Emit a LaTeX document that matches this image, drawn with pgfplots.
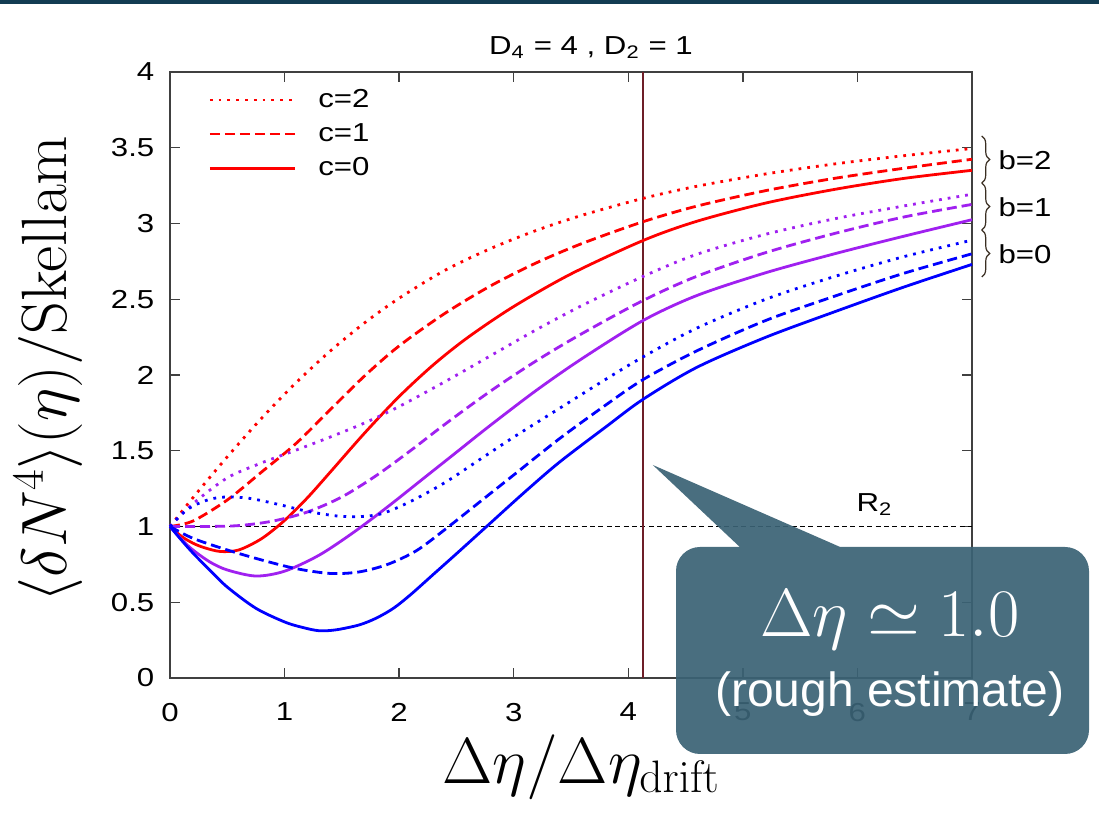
\RequirePackage{fix-cm}
\documentclass[border=0pt]{standalone}
\usepackage[no-math]{fontspec}
\setmainfont{Liberation Sans}
\usepackage{pgfplots}
\pgfplotsset{compat=1.18}
\usetikzlibrary{decorations.pathreplacing}
\definecolor{gpred}{HTML}{FF0000}
\definecolor{gppurple}{HTML}{A020F0}
\definecolor{gpblue}{HTML}{0000FF}
\definecolor{vline}{HTML}{6E1E28}
\definecolor{topbar}{HTML}{123C52}
\definecolor{callout}{HTML}{3A6275}
\definecolor{axisgray}{HTML}{404040}
\definecolor{bracecol}{HTML}{3A2E22}

\tikzset{
  cdot/.style={line width=1.4pt, dash pattern=on 1.4pt off 3pt},
  cdash/.style={line width=1.4pt, dash pattern=on 5pt off 2.5pt},
  csol/.style={line width=1.4pt},
}
\newcommand{\gp}[1]{\scalebox{1.2}[1]{#1}}

\begin{document}
\begin{tikzpicture}
\fill[white] (0,0) rectangle (549.5pt,409pt);
\fill[topbar] (0,406.8pt) rectangle (549.5pt,409pt);

\begin{axis}[
  at={(85pt,70pt)}, anchor=south west,
  scale only axis, width=401pt, height=303pt,
  xmin=0, xmax=7, ymin=0, ymax=4,
  xtick={0,1,2,3,4,5,6,7},
  ytick={0,0.5,1,1.5,2,2.5,3,3.5,4},
  tick align=inside, major tick length=5pt,
  axis line style={axisgray, line width=0.7pt},
  every tick/.style={axisgray, line width=0.7pt},
  tick label style={font=\fontsize{13}{15}\selectfont, xscale=1.2},
  /pgf/number format/assume math mode=true,
  xticklabel style={yshift=-9pt},
  yticklabel style={xshift=-3pt},
  clip=false,
  legend style={draw=none, fill=none, at={(rel axis cs:0.04,0.985)}, anchor=north west,
    font=\fontsize{13}{15}\selectfont, row sep=2.5pt,
    /tikz/every odd column/.append style={column sep=9pt}},
  legend cell align=left,
  legend image code/.code={\draw[#1] (0pt,0pt) -- (42.5pt,0pt);},
]
\addlegendimage{gpred, cdot}\addlegendentry{\gp{c=2}}
\addlegendimage{gpred, cdash}\addlegendentry{\gp{c=1}}
\addlegendimage{gpred, csol}\addlegendentry{\gp{c=0}}

% reference lines
\addplot[black, line width=0.5pt, dash pattern=on 2.5pt off 1.7pt, forget plot]
  coordinates {(0,1) (7,1)};
\addplot[vline, line width=1.3pt, forget plot] coordinates {(4.13,0) (4.13,4)};

% b=2 (red)
\addplot[gpred, cdot, smooth, forget plot] coordinates {
 (0,1) (0.2,1.19) (0.5,1.46) (0.8,1.715) (1.1,1.949) (1.4,2.159) (1.7,2.345) (2.0,2.507)
 (2.4,2.691) (2.8,2.835) (3.2,2.955) (3.6,3.055) (4.13,3.166) (4.6,3.246) (5.2,3.327)
 (5.8,3.393) (6.4,3.447) (7,3.495)};
\addplot[gpred, cdash, smooth, forget plot] coordinates {
 (0,1) (0.2,1.036) (0.5,1.175) (0.8,1.36) (1.1,1.548) (1.4,1.772) (1.7,1.995) (2.0,2.192)
 (2.4,2.407) (2.8,2.589) (3.2,2.741) (3.6,2.869) (4.13,3.012) (4.6,3.115) (5.2,3.217)
 (5.8,3.298) (6.4,3.364) (7,3.424)};
\addplot[gpred, csol, smooth, forget plot] coordinates {
 (0,1) (0.1,0.935) (0.2,0.89) (0.3,0.86) (0.44,0.835) (0.6,0.845) (0.8,0.92) (1.0,1.04)
 (1.2,1.19) (1.4,1.36) (1.7,1.618) (2.0,1.858) (2.3,2.068) (2.6,2.248) (3.0,2.452)
 (3.5,2.667) (4.13,2.888) (4.6,3.015) (5.2,3.135) (5.8,3.225) (6.4,3.297) (7,3.351)};

% b=1 (purple)
\addplot[gppurple, cdot, smooth, forget plot] coordinates {
 (0,1) (0.2,1.15) (0.5,1.321) (0.8,1.42) (1.1,1.504) (1.4,1.591) (1.7,1.684) (2.0,1.792)
 (2.4,1.956) (2.8,2.128) (3.2,2.30) (3.6,2.46) (4.13,2.651) (4.6,2.797) (5.2,2.929)
 (5.8,3.031) (6.4,3.115) (7,3.193)};
\addplot[gppurple, cdash, smooth, forget plot] coordinates {
 (0,1) (0.3,1.0) (0.6,1.006) (0.9,1.036) (1.2,1.096) (1.5,1.195) (1.8,1.336) (2.1,1.501)
 (2.4,1.675) (2.8,1.895) (3.2,2.095) (3.6,2.275) (4.13,2.492) (4.6,2.652) (5.2,2.808)
 (5.8,2.934) (6.4,3.042) (7,3.126)};
\addplot[gppurple, csol, smooth, forget plot] coordinates {
 (0,1) (0.1,0.915) (0.2,0.845) (0.35,0.765) (0.5,0.713) (0.75,0.673) (1.0,0.705)
 (1.3,0.81) (1.6,0.96) (1.9,1.13) (2.2,1.31) (2.5,1.49) (2.8,1.67) (3.2,1.9)
 (3.6,2.11) (4.13,2.36) (4.6,2.525) (5.2,2.675) (5.8,2.80) (6.4,2.915) (7,3.025)};

% b=0 (blue)
\addplot[gpblue, cdot, smooth, forget plot] coordinates {
 (0,1) (0.1,1.08) (0.2,1.135) (0.35,1.18) (0.5,1.195) (0.7,1.185) (0.95,1.145) (1.2,1.1)
 (1.45,1.07) (1.65,1.065) (1.85,1.085) (2.1,1.165) (2.4,1.29) (2.7,1.44) (3.0,1.59)
 (3.4,1.78) (3.8,1.97) (4.13,2.12) (4.6,2.31) (5.2,2.5) (5.8,2.65) (6.4,2.78) (7,2.89)};
\addplot[gpblue, cdash, smooth, forget plot] coordinates {
 (0,1) (0.2,0.922) (0.5,0.845) (0.8,0.779) (1.1,0.722) (1.4,0.69) (1.65,0.70) (1.9,0.75)
 (2.15,0.84) (2.4,0.98) (2.7,1.16) (3.0,1.34) (3.4,1.58) (3.8,1.8) (4.13,1.97)
 (4.6,2.16) (5.2,2.36) (5.8,2.52) (6.4,2.67) (7,2.80)};
\addplot[gpblue, csol, smooth, forget plot] coordinates {
 (0,1) (0.1,0.91) (0.2,0.825) (0.35,0.71) (0.5,0.6) (0.75,0.46) (1.0,0.37) (1.15,0.335)
 (1.3,0.312) (1.45,0.318) (1.65,0.35) (1.8,0.395) (1.95,0.46) (2.1,0.55) (2.3,0.685)
 (2.5,0.82) (2.8,1.025) (3.1,1.23) (3.4,1.425) (3.8,1.655) (4.13,1.84) (4.6,2.051)
 (5.2,2.249) (5.8,2.417) (6.4,2.579) (7,2.73)};

% annotations
\node[font=\fontsize{13}{15}\selectfont] at (axis cs:6.15,1.142) {\gp{R\textsubscript{2}}};
\draw[decorate, decoration={brace, amplitude=4pt}, line width=0.6pt, bracecol]
  (axis cs:7.085,3.578) -- (axis cs:7.085,3.267);
\draw[decorate, decoration={brace, amplitude=4pt}, line width=0.6pt, bracecol]
  (axis cs:7.085,3.267) -- (axis cs:7.085,2.957);
\draw[decorate, decoration={brace, amplitude=4pt}, line width=0.6pt, bracecol]
  (axis cs:7.085,2.957) -- (axis cs:7.085,2.647);
\node[anchor=west, font=\fontsize{13}{15}\selectfont] at (axis cs:7.17,3.42) {\gp{b=2}};
\node[anchor=west, font=\fontsize{13}{15}\selectfont] at (axis cs:7.17,3.11) {\gp{b=1}};
\node[anchor=west, font=\fontsize{13}{15}\selectfont] at (axis cs:7.17,2.80) {\gp{b=0}};
\end{axis}

% title and axis labels
\node[anchor=base, font=\fontsize{13}{15}\selectfont] at (295.5pt,381.5pt)
  {\gp{D\textsubscript{4} = 4 , D\textsubscript{2} = 1}};
\node[anchor=base, font=\fontsize{32.5}{36}\selectfont] at (290.5pt,17.4pt)
  {$\Delta\eta/\Delta\eta_{\mathrm{drift}}$};
\node[anchor=base, rotate=90, font=\fontsize{32}{36}\selectfont] at (33pt,224.5pt)
  {$\langle\delta N^4\rangle(\eta)/\mathrm{Skellam}$};

% callout
\fill[callout, opacity=0.92]
  [rounded corners=12pt] (338pt,32pt) rectangle (544.5pt,135.5pt)
  [sharp corners] (326.4pt,176.5pt) -- (423.5pt,134pt) -- (371.5pt,134pt) -- cycle;
\node[white, anchor=base, font=\fontsize{34}{38}\selectfont] at (445pt,90.6pt) {$\Delta\eta\simeq1.0$};
\node[white, anchor=base, font=\fontsize{24}{28}\selectfont] at (445pt,55.6pt) {(rough estimate)};

\pgfresetboundingbox
\path (0,0) rectangle (549.5pt,409pt);
\end{tikzpicture}
\end{document}
